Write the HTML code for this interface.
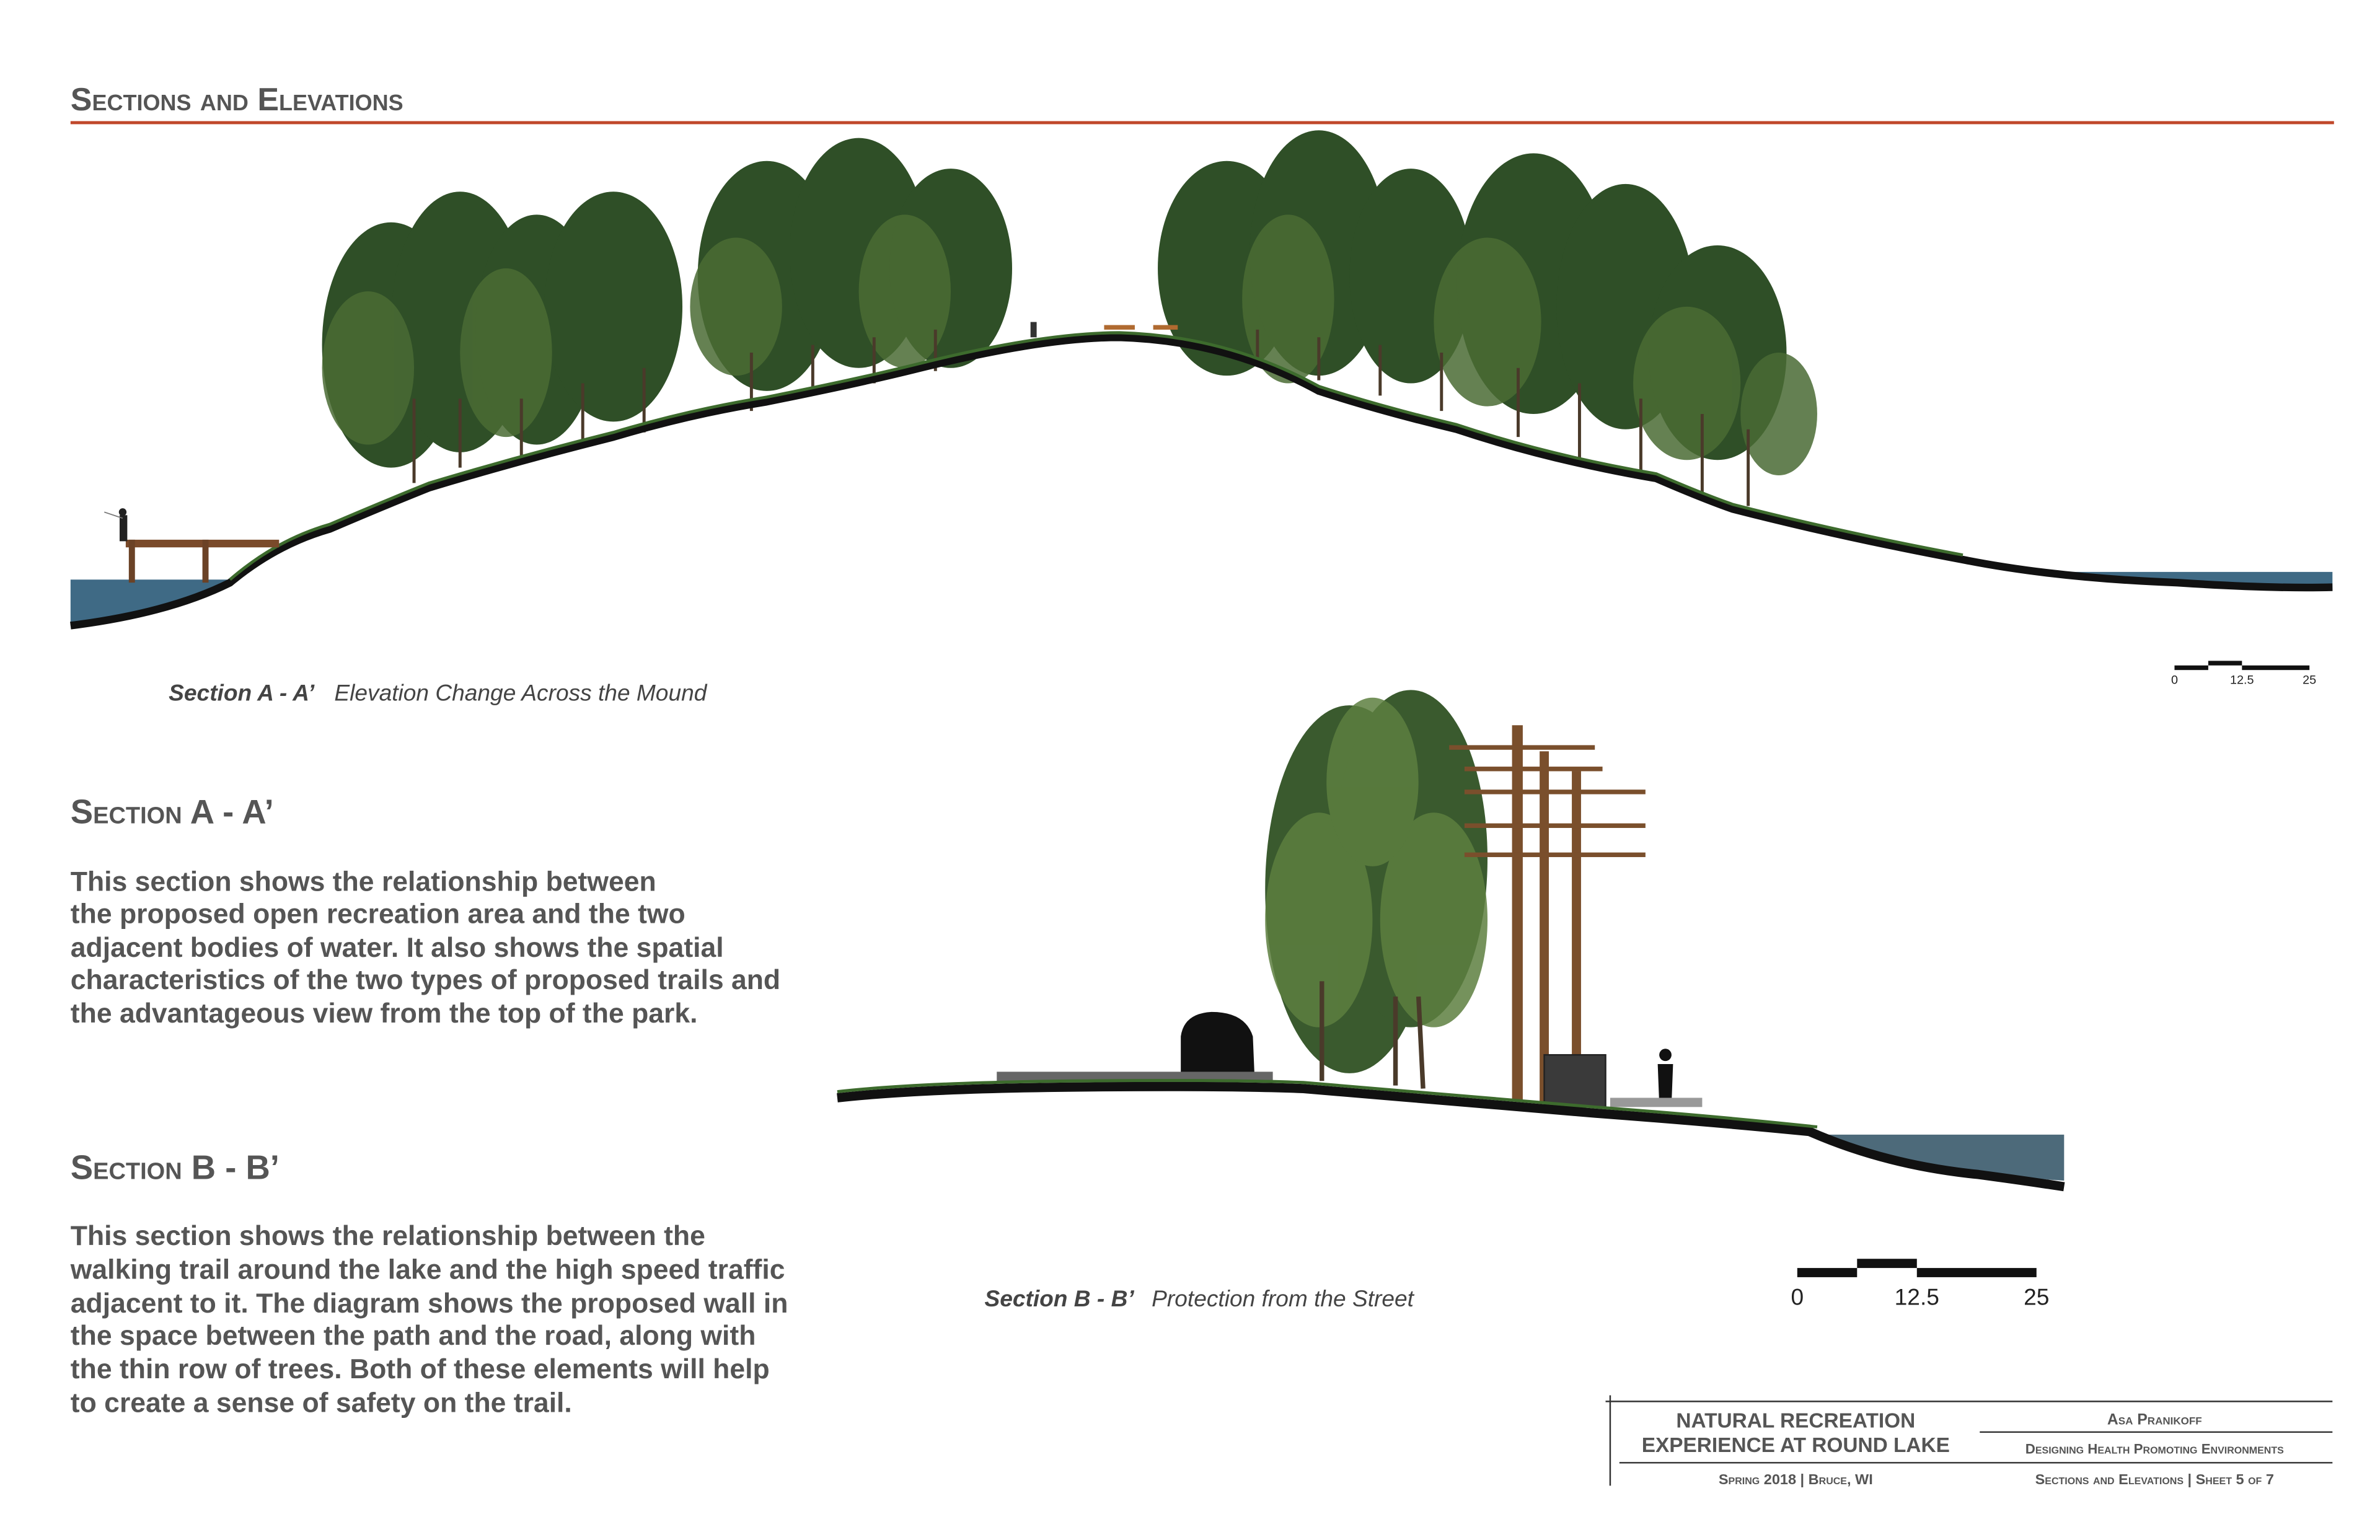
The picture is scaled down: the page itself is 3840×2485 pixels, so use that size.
<!DOCTYPE html>
<html><head><meta charset="utf-8"><style>
html,body{margin:0;padding:0;background:#fff;}
svg{display:block;}
</style></head><body>
<svg width="3840" height="2485" viewBox="0 0 1552 1004.4" preserveAspectRatio="none" xmlns="http://www.w3.org/2000/svg" font-family="Liberation Sans, sans-serif">
<rect width="1552" height="1005" fill="#fff"/>
<!-- Header -->
<text x="46" y="72" font-size="21" font-weight="bold" fill="#555" font-variant="small-caps">Sections and Elevations</text>
<rect x="46" y="79" width="1476" height="2" fill="#c0472a"/>

<!-- Section A water -->
<path d="M46 378 L150 378 L130 390 Q90 402 46 408 Z" fill="#3f6a85"/>
<path d="M1330 373 L1521 373 L1521 385 L1490 382 Q1420 383 1340 376 Z" fill="#3f6a85"/>
<!-- Section A trees -->
<g>
<g fill="#2f4f27">
<ellipse cx="255" cy="225" rx="45" ry="80"/>
<ellipse cx="300" cy="210" rx="45" ry="85"/>
<ellipse cx="350" cy="215" rx="40" ry="75"/>
<ellipse cx="400" cy="200" rx="45" ry="75"/>
<ellipse cx="500" cy="180" rx="45" ry="75"/>
<ellipse cx="560" cy="165" rx="45" ry="75"/>
<ellipse cx="620" cy="175" rx="40" ry="65"/>
<ellipse cx="800" cy="175" rx="45" ry="70"/>
<ellipse cx="860" cy="165" rx="45" ry="80"/>
<ellipse cx="920" cy="180" rx="40" ry="70"/>
<ellipse cx="1000" cy="185" rx="50" ry="85"/>
<ellipse cx="1060" cy="200" rx="45" ry="80"/>
<ellipse cx="1120" cy="230" rx="45" ry="70"/>
</g>
<g fill="#4a6b34" opacity="0.85">
<ellipse cx="240" cy="240" rx="30" ry="50"/>
<ellipse cx="330" cy="230" rx="30" ry="55"/>
<ellipse cx="480" cy="200" rx="30" ry="45"/>
<ellipse cx="590" cy="190" rx="30" ry="50"/>
<ellipse cx="840" cy="195" rx="30" ry="55"/>
<ellipse cx="970" cy="210" rx="35" ry="55"/>
<ellipse cx="1100" cy="250" rx="35" ry="50"/>
<ellipse cx="1160" cy="270" rx="25" ry="40"/>
</g>
<g stroke="#4a3a2a" stroke-width="2">
<line x1="270" y1="260" x2="270" y2="315"/><line x1="300" y1="260" x2="300" y2="305"/><line x1="340" y1="260" x2="340" y2="298"/><line x1="380" y1="250" x2="380" y2="290"/><line x1="420" y1="240" x2="420" y2="282"/>
<line x1="490" y1="230" x2="490" y2="268"/><line x1="530" y1="225" x2="530" y2="258"/><line x1="570" y1="220" x2="570" y2="250"/><line x1="610" y1="215" x2="610" y2="242"/>
<line x1="820" y1="215" x2="820" y2="236"/><line x1="860" y1="220" x2="860" y2="248"/><line x1="900" y1="225" x2="900" y2="258"/><line x1="940" y1="230" x2="940" y2="268"/>
<line x1="990" y1="240" x2="990" y2="285"/><line x1="1030" y1="250" x2="1030" y2="300"/><line x1="1070" y1="260" x2="1070" y2="310"/><line x1="1110" y1="270" x2="1110" y2="325"/><line x1="1140" y1="280" x2="1140" y2="330"/>
</g>
</g>
<!-- Section A ground -->
<path d="M46 408 Q110 400 150 380 Q180 355 215 345 Q250 330 280 318 Q340 300 400 285 Q450 270 500 262 Q560 250 600 240 Q680 220 730 220 Q800 222 860 255 Q900 268 950 280 Q1010 300 1080 312 Q1110 325 1130 332 Q1200 350 1280 365 Q1340 377 1420 380 Q1480 384 1521 383" fill="none" stroke="#111" stroke-width="5"/>
<path d="M150 378 Q180 352 215 342 Q250 327 280 315 Q340 297 400 282 Q450 267 500 259 Q560 247 600 237 Q680 217 730 217 Q800 219 860 252 Q900 265 950 277 Q1010 297 1080 309 Q1110 322 1130 329 Q1200 347 1280 362" fill="none" stroke="#3d6b2d" stroke-width="2"/>
<!-- dock and fisherman -->
<rect x="82" y="352" width="100" height="5" fill="#7a4a2a"/>
<rect x="84" y="352" width="4" height="28" fill="#6b4226"/><rect x="132" y="352" width="4" height="28" fill="#6b4226"/>
<rect x="78" y="336" width="5" height="17" fill="#222"/><circle cx="80" cy="334" r="2.5" fill="#222"/>
<line x1="80" y1="338" x2="68" y2="334" stroke="#777" stroke-width="0.7"/>
<!-- picnic -->
<rect x="720" y="212" width="20" height="3" fill="#b06a30"/><rect x="752" y="212" width="16" height="3" fill="#b06a30"/>
<rect x="672" y="210" width="4" height="10" fill="#333"/>

<text x="110" y="457" font-size="15" font-style="italic" fill="#444"><tspan font-weight="bold">Section A - A’</tspan><tspan x="218">Elevation Change Across the Mound</tspan></text>
<!-- scale A -->
<rect x="1418" y="434" width="22" height="3" fill="#111"/><rect x="1440" y="431" width="22" height="3" fill="#111"/><rect x="1462" y="434" width="44" height="3" fill="#111"/>
<text x="1418" y="446" font-size="8" fill="#222" text-anchor="middle">0</text>
<text x="1462" y="446" font-size="8" fill="#222" text-anchor="middle">12.5</text>
<text x="1506" y="446" font-size="8" fill="#222" text-anchor="middle">25</text>

<!-- Text blocks -->
<g fill="#555" font-size="18" font-weight="bold">
<text x="46" y="537" font-size="22" font-variant="small-caps">Section A - A’</text>
<text x="46" y="581">This section shows the relationship between</text>
<text x="46" y="602">the proposed open recreation area and the two</text>
<text x="46" y="624">adjacent bodies of water.  It also shows the spatial</text>
<text x="46" y="645">characteristics of the two types of proposed trails and</text>
<text x="46" y="667">the advantageous view from the top of the park.</text>
<text x="46" y="769" font-size="22" font-variant="small-caps">Section B - B’</text>
<text x="46" y="812">This section shows the relationship between the</text>
<text x="46" y="834">walking trail around the lake and the high speed traffic</text>
<text x="46" y="856">adjacent to it.  The diagram shows the proposed wall in</text>
<text x="46" y="877">the space between the path and the road, along with</text>
<text x="46" y="899">the thin row of trees.  Both of these elements will help</text>
<text x="46" y="921">to create a sense of safety on the trail.</text>
</g>

<!-- Section B -->
<path d="M1190 740 L1346 740 L1346 770 Q1260 765 1190 742 Z" fill="#4d6a7a"/>
<g fill="#3a5a2e"><ellipse cx="880" cy="580" rx="55" ry="120"/><ellipse cx="920" cy="560" rx="50" ry="110"/></g>
<g fill="#5d7f3f" opacity="0.85"><ellipse cx="860" cy="600" rx="35" ry="70"/><ellipse cx="935" cy="600" rx="35" ry="70"/><ellipse cx="895" cy="510" rx="30" ry="55"/></g>
<g stroke="#4a3a2a" stroke-width="3"><line x1="862" y1="640" x2="862" y2="705"/><line x1="910" y1="650" x2="910" y2="708"/><line x1="925" y1="650" x2="928" y2="710"/></g>
<g fill="#7a4f2c">
<rect x="986" y="473" width="7" height="245"/><rect x="1004" y="490" width="6" height="230"/><rect x="1025" y="503" width="6" height="218"/>
<rect x="945" y="486" width="95" height="3"/><rect x="955" y="500" width="90" height="3"/><rect x="955" y="515" width="118" height="3"/><rect x="955" y="537" width="118" height="3"/><rect x="955" y="556" width="118" height="3"/>
</g>
<rect x="1007" y="688" width="40" height="34" fill="#3a3a3a" stroke="#222"/>
<path d="M770 700 L770 676 Q772 661 790 660 Q812 660 817 676 L818 700 Z" fill="#111"/>
<circle cx="1086" cy="688" r="4" fill="#111"/><path d="M1081 694 L1091 694 L1090 720 L1082 720 Z" fill="#111"/>
<rect x="1050" y="716" width="60" height="6" fill="#999"/>
<rect x="650" y="699" width="180" height="7" fill="#666"/>
<path d="M546 716 Q600 710 700 709 Q800 708 850 710 Q950 718 1040 726 Q1120 732 1180 738 Q1230 760 1290 766 Q1320 770 1346 774" fill="none" stroke="#111" stroke-width="6"/>
<path d="M546 712 Q600 706 700 705 Q800 704 850 706 Q950 714 1040 722 Q1120 728 1185 735" fill="none" stroke="#3d6b2d" stroke-width="2"/>
<text x="642" y="852" font-size="15" font-style="italic" fill="#444"><tspan font-weight="bold">Section B - B’</tspan><tspan x="751">Protection from the Street</tspan></text>
<!-- scale B -->
<rect x="1172" y="827" width="39" height="6" fill="#111"/><rect x="1211" y="821" width="39" height="6" fill="#111"/><rect x="1250" y="827" width="78" height="6" fill="#111"/>
<text x="1172" y="851" font-size="15" fill="#222" text-anchor="middle">0</text>
<text x="1250" y="851" font-size="15" fill="#222" text-anchor="middle">12.5</text>
<text x="1328" y="851" font-size="15" fill="#222" text-anchor="middle">25</text>

<!-- Title block -->
<g stroke="#333" stroke-width="1">
<line x1="1050" y1="910" x2="1050" y2="969"/>
<line x1="1047" y1="914" x2="1521" y2="914"/>
<line x1="1291" y1="934" x2="1521" y2="934"/>
<line x1="1056" y1="954" x2="1521" y2="954"/>
</g>
<g fill="#555" font-weight="bold" text-anchor="middle">
<text x="1171" y="931" font-size="13.5">NATURAL RECREATION</text>
<text x="1171" y="947" font-size="13.5">EXPERIENCE AT ROUND LAKE</text>
<text x="1405" y="929" font-size="10" font-variant="small-caps">Asa Pranikoff</text>
<text x="1405" y="948" font-size="9" font-variant="small-caps">Designing Health Promoting Environments</text>
<text x="1171" y="968" font-size="9.5" font-variant="small-caps">Spring 2018 | Bruce, WI</text>
<text x="1405" y="968" font-size="9.5" font-variant="small-caps">Sections and Elevations | Sheet 5 of 7</text>
</g>
</svg>
</body></html>
